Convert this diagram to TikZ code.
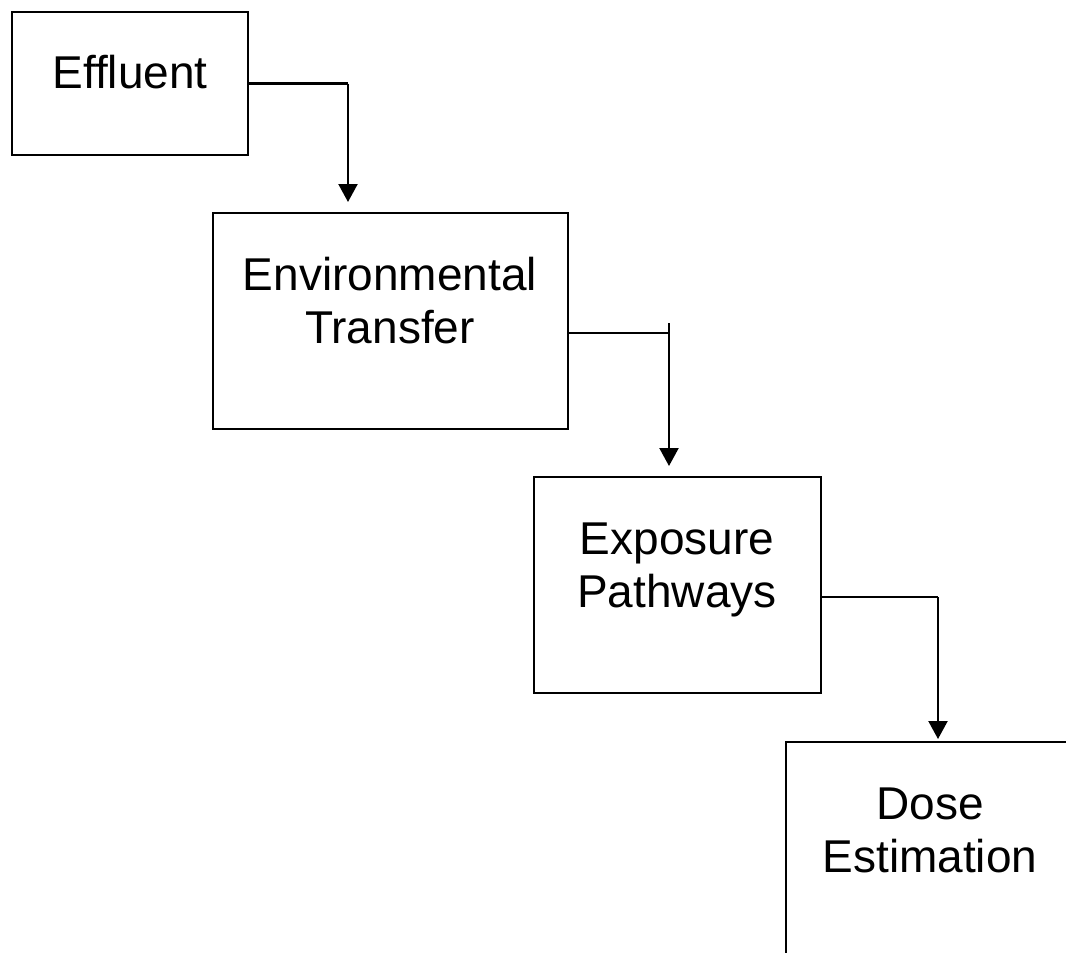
\documentclass[tikz,border=0pt]{standalone}
\usepackage{fontspec}
\setmainfont{Liberation Sans}
\usetikzlibrary{arrows.meta,calc}
\begin{document}
\begin{tikzpicture}[x=1pt,y=-1pt,
  box/.style={draw,line width=2.2pt,rectangle,inner sep=0pt},
  lbl/.style={font=\fontsize{46}{53}\selectfont,inner sep=0pt,align=center,anchor=base},
  conn/.style={line width=2.2pt},
  arr/.style={line width=2.2pt,-{Triangle[width=19pt,length=18pt]}}]
\useasboundingbox (0,0) rectangle (1066,953);
\clip (0,0) rectangle (1066,953);
\fill[white] (0,0) rectangle (1066,953);
% boxes
\node[box,minimum width=236pt,minimum height=143pt] (eff) at (130,83.5) {};
\node[box,minimum width=355pt,minimum height=216pt] (env) at (390.5,321) {};
\node[box,minimum width=287pt,minimum height=216pt] (exp) at (677.5,585) {};
\node[box,minimum width=300pt,minimum height=260pt] (dose) at (936,872) {};
% texts (anchor = baseline of the last line)
\node[lbl] (teff) at (130,88) {Effluent};
\node[lbl] (tenv) at (390,343) {Environmental\\Transfer};
\node[lbl] (texp) at (677,607) {Exposure\\Pathways};
\node[lbl] (tdose) at (930,872) {Dose\\Estimation};
% connector points
\coordinate (c1) at (348,83.5);
\coordinate (e1) at (348,202);
\coordinate (c2a) at ($(env.east)+(0,12)$);
\coordinate (c2) at (669,333);
\coordinate (c2t) at (669,323);
\coordinate (e2) at (669,466);
\coordinate (c3a) at ($(exp.east)+(0,12)$);
\coordinate (c3) at (938,597);
\coordinate (e3) at (938,739);
% connectors
\draw[conn] (eff.east) -- (c1);
\draw[arr] (c1) -- (e1);
\draw[conn] (c2a) -- (c2);
\draw[arr] (c2t) -- (e2);
\draw[conn] (c3a) -- (c3);
\draw[arr] (c3) -- (e3);
\end{tikzpicture}
\end{document}
